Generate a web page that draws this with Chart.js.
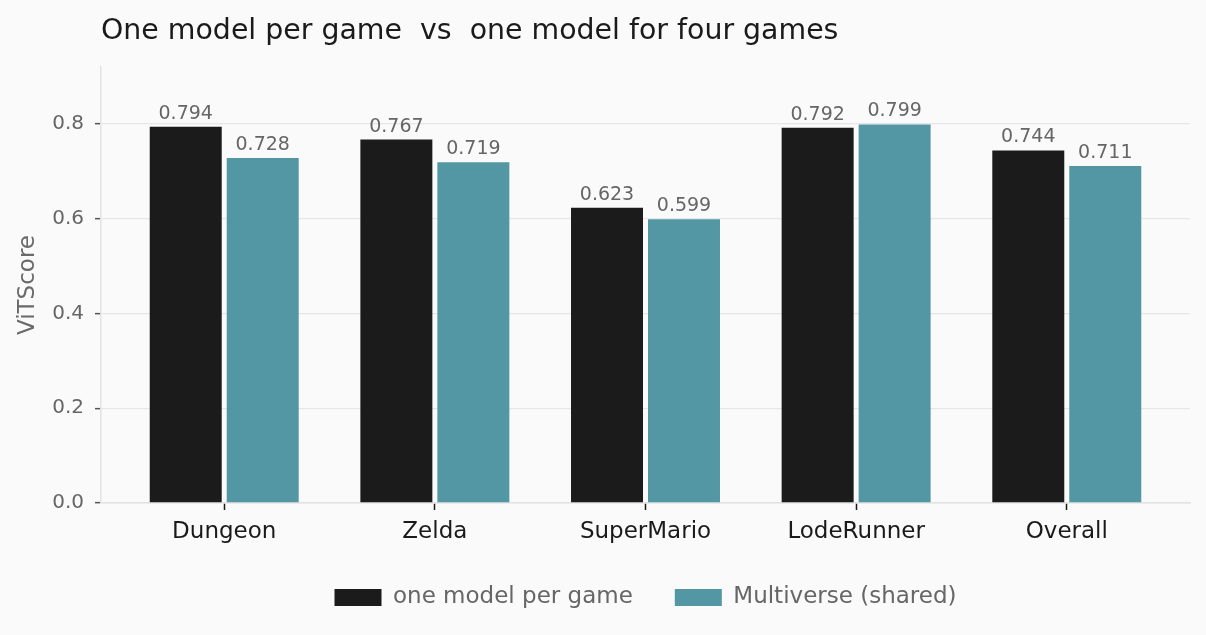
<!DOCTYPE html>
<html lang="en">
<head>
  <meta charset="UTF-8">
  <title>One model per game vs one model for four games</title>
  <script src="https://cdn.jsdelivr.net/npm/chart.js"></script>
  <style>
    html, body { margin: 0; padding: 0; background: #fafafa; }
    #wrap { width: 1206px; height: 635px; }
  </style>
</head>
<body>
  <div id="wrap"><canvas id="grafico"></canvas></div>

  <script>
    // dados
    const games = ["Dungeon", "Zelda", "SuperMario", "LodeRunner", "Overall"];
    const perGame = [0.794, 0.767, 0.623, 0.792, 0.744];
    const shared = [0.728, 0.719, 0.599, 0.799, 0.711];
    const yTicks = [0.0, 0.2, 0.4, 0.6, 0.8];

    Chart.defaults.font.family = "'DejaVu Sans', sans-serif";

    // rotulo de valor em cima de cada barra
    const valueLabels = {
      id: "valueLabels",
      afterDatasetsDraw(chart) {
        const ctx = chart.ctx;
        ctx.save();
        ctx.font = "19px 'DejaVu Sans'";
        ctx.fillStyle = "#666666";
        ctx.textAlign = "center";
        ctx.textBaseline = "alphabetic";
        chart.data.datasets.forEach((ds, i) => {
          chart.getDatasetMeta(i).data.forEach((bar, j) => {
            ctx.fillText(ds.data[j].y.toFixed(3), bar.x, bar.y - 8);
          });
        });
        ctx.restore();
      }
    };

    const ctx = document.getElementById("grafico").getContext("2d");
    const grafico = new Chart(ctx, {
      type: "bar",
      data: {
        datasets: [
          {
            label: "one model per game",
            data: perGame.map((v, i) => ({ x: i, y: v })),
            backgroundColor: "#1b1b1b"
          },
          {
            label: "Multiverse (shared)",
            data: shared.map((v, i) => ({ x: i, y: v })),
            backgroundColor: "#5297a3"
          }
        ]
      },
      options: {
        responsive: true,
        maintainAspectRatio: false,
        animation: false,
        categoryPercentage: 0.731,
        barPercentage: 0.935,
        layout: { padding: { top: 0, right: 16, bottom: 16, left: 0 } },
        scales: {
          x: {
            type: "linear",
            offset: false,
            min: -0.585,
            max: 4.585,
            afterBuildTicks(scale) {
              scale.ticks = games.map((g, i) => ({ value: i }));
            },
            afterFit(scale) { scale.height = 41; },
            ticks: {
              callback: (v) => games[v],
              color: "#1a1a1a",
              font: { size: 23 },
              padding: 8,
              maxRotation: 0,
              autoSkip: false
            },
            grid: {
              offset: false,
              drawOnChartArea: false,
              tickLength: 7,
              tickColor: "#1a1a1a",
              tickWidth: 1.5
            },
            border: { color: "#e2e2e2", width: 1.5 }
          },
          y: {
            min: 0,
            max: 0.92,
            afterBuildTicks(scale) {
              scale.ticks = yTicks.map((v) => ({ value: v }));
            },
            afterFit(scale) { scale.width = 101; },
            ticks: {
              callback: (v) => v.toFixed(1),
              color: "#666666",
              font: { size: 20 },
              padding: 11
            },
            grid: {
              color: "#e6e6e6",
              lineWidth: 1.3,
              tickLength: 6,
              tickColor: "#555555",
              tickWidth: 1.5
            },
            border: { color: "#e2e2e2", width: 1.5 },
            title: {
              display: true,
              text: "ViTScore",
              color: "#6a6a6a",
              font: { size: 23 },
              padding: { top: 14, bottom: 0 }
            }
          }
        },
        plugins: {
          tooltip: { enabled: false },
          title: {
            display: true,
            text: "One model per game  vs  one model for four games",
            align: "start",
            fullSize: false,
            color: "#1a1a1a",
            font: { size: 28.4, weight: "normal" },
            padding: { top: 15, bottom: 18 }
          },
          legend: {
            position: "bottom",
            fullSize: false,
            labels: {
              boxWidth: 47,
              boxHeight: 17,
              color: "#666666",
              font: { size: 23 },
              padding: 42
            }
          }
        }
      },
      plugins: [valueLabels]
    });
  </script>
</body>
</html>
